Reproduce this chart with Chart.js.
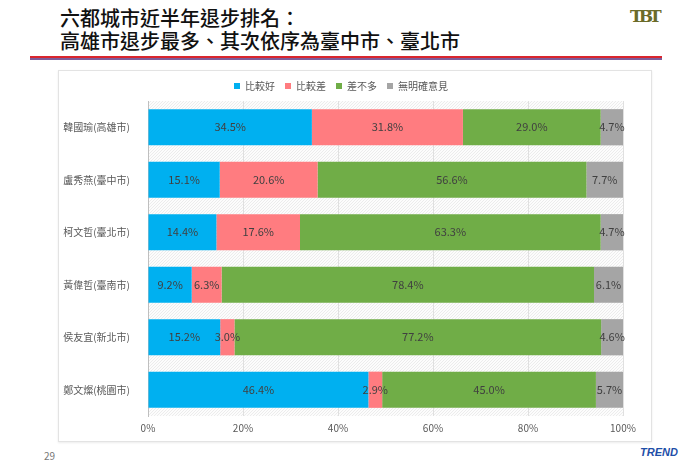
<!DOCTYPE html>
<html>
<head>
<meta charset="utf-8">
<script src="https://cdn.jsdelivr.net/npm/chart.js@4/dist/chart.umd.min.js"></script>
<style>
  body { margin: 0; width: 700px; height: 467px; background: #fff; position: relative; overflow: hidden;
         font-family: "Noto Sans CJK TC", "Noto Sans", sans-serif; }
  .title { position: absolute; left: 60px; top: 6px; font-size: 20px; line-height: 23px; color: #111; font-weight: 500; }
  .rule { position: absolute; left: 30px; top: 56px; width: 632px; height: 2px; background: #d9262e; }
  .rule2 { position: absolute; left: 30px; top: 58px; width: 632px; height: 2px; background: #7d5d9a; }
  .frame { position: absolute; left: 58px; top: 70px; width: 592px; height: 370px; border: 1px solid #e3e3e3;
           box-shadow: 0 1px 2px rgba(0,0,0,0.08); }
  .page { position: absolute; left: 44px; top: 448px; font-size: 10px; color: #777; }
  .tbt { position: absolute; left: 630px; top: 6px; font-size: 17px; font-weight: bold; color: #6b6b2a;
         font-family: "DejaVu Serif", serif; letter-spacing: -4px; }
  .trend { position: absolute; left: 640px; top: 446px; font-size: 11px; font-weight: bold; font-style: italic;
           color: #1f4fa8; font-family: "Liberation Sans", sans-serif; }
</style>
</head>
<body>
<div class="title">六都城市近半年退步排名：<br>高雄市退步最多、其次依序為臺中市、臺北市</div>
<div class="rule"></div><div class="rule2"></div>
<div class="frame"><canvas id="c" width="592" height="370"></canvas></div>
<div class="page">29</div>
<div class="tbt">TBT</div>
<div class="trend">TREND</div>
<script>
// 六都市長施政評價
const categories = ['韓國瑜(高雄市)', '盧秀燕(臺中市)', '柯文哲(臺北市)', '黃偉哲(臺南市)', '侯友宜(新北市)', '鄭文燦(桃園市)'];
const better = [34.5, 15.1, 14.4, 9.2, 15.2, 46.4];
const worse = [31.8, 20.6, 17.6, 6.3, 3.0, 2.9];
const same = [29.0, 56.6, 63.3, 78.4, 77.2, 45.0];
const noOpinion = [4.7, 7.7, 4.7, 6.1, 4.6, 5.7];
const seriesNames = ['比較好', '比較差', '差不多', '無明確意見'];
const seriesColors = ['#00b0f0', '#ff7c80', '#70ad47', '#a5a5a5'];

const font = '"Noto Sans CJK TC", "Noto Sans", sans-serif';

// 斜線底紋背景
const hatchBg = {
  id: 'hatchBg',
  beforeDraw(chart) {
    const a = chart.chartArea, ctx = chart.ctx;
    ctx.save();
    ctx.beginPath();
    ctx.rect(a.left, a.top, a.right - a.left, a.bottom - a.top);
    ctx.clip();
    ctx.fillStyle = '#fcfcfc';
    ctx.fillRect(a.left, a.top, a.right - a.left, a.bottom - a.top);
    ctx.strokeStyle = '#ececec';
    ctx.lineWidth = 1;
    for (let x = a.left - (a.bottom - a.top); x < a.right; x += 3) {
      ctx.beginPath();
      ctx.moveTo(x, a.bottom);
      ctx.lineTo(x + (a.bottom - a.top), a.top);
      ctx.stroke();
    }
    ctx.restore();
  }
};

// 標籤
const valueLabels = {
  id: 'valueLabels',
  afterDatasetsDraw(chart) {
    const ctx = chart.ctx;
    ctx.save();
    ctx.font = '11px ' + font;
    ctx.fillStyle = '#404040';
    ctx.textAlign = 'center';
    ctx.textBaseline = 'middle';
    chart.data.datasets.forEach((ds, i) => {
      chart.getDatasetMeta(i).data.forEach((bar, j) => {
        const cx = (bar.x + bar.base) / 2;
        ctx.fillText(ds.data[j].toFixed(1) + '%', cx, bar.y);
      });
    });
    ctx.restore();
  }
};

const dataSets = [better, worse, same, noOpinion].map((d, i) => ({
  label: seriesNames[i],
  data: d,
  backgroundColor: seriesColors[i],
  borderWidth: 0,
  categoryPercentage: 1,
  barPercentage: 0.69
}));

new Chart(document.getElementById('c'), {
  type: 'bar',
  data: { labels: categories, datasets: dataSets },
  plugins: [hatchBg, valueLabels],
  options: {
    indexAxis: 'y',
    responsive: false,
    animation: false,
    layout: { padding: { left: 0, right: 28, top: 0, bottom: 0 } },
    plugins: {
      legend: {
        position: 'top',
        labels: { boxWidth: 6, boxHeight: 6, padding: 10, color: '#595959', font: { family: font, size: 10 } }
      },
      tooltip: { enabled: false }
    },
    scales: {
      x: {
        stacked: true,
        min: 0, max: 100,
        ticks: { stepSize: 20, callback: v => v + '%', color: '#595959', font: { family: font, size: 10 }, padding: 6 },
        grid: { color: '#e0e0e0', drawTicks: false },
        border: { display: false },
        afterFit(s) { s.height = 25; }
      },
      y: {
        stacked: true,
        ticks: { color: '#595959', font: { family: font, size: 10 }, padding: 10 },
        grid: { display: false },
        border: { color: '#bfbfbf' },
        afterFit(s) { s.width = 89; }
      }
    }
  }
});
</script>
</body>
</html>
